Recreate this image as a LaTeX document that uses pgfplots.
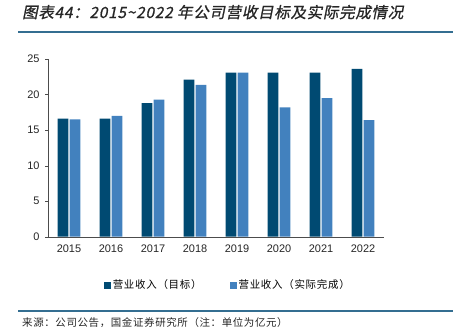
\documentclass[border=0pt]{standalone}
\usepackage{pgfplots}
\pgfplotsset{compat=1.18}
\usepackage{fontspec}
\setmainfont{Liberation Sans}
\newfontfamily\cjk{Noto Sans CJK SC}
\newfontfamily\cjkleg[LetterSpace=7]{Noto Sans CJK SC}
\newfontfamily\cjksrc[LetterSpace=6]{Noto Sans CJK SC}
\newfontfamily\cjkit[FakeSlant=0.2,FakeBold=1,LetterSpace=5]{Noto Sans CJK SC}
\definecolor{cdark}{RGB}{0,74,114}
\definecolor{clight}{RGB}{66,129,190}
\definecolor{cline}{RGB}{52,110,145}
\begin{document}
\begin{tikzpicture}[x=1bp,y=1bp]
\useasboundingbox (0,0) rectangle (453,329);
\node[anchor=base west,inner sep=0,text=black!85] at (22,311) {\cjkit\fontsize{15.5}{17}\selectfont 图表44：2015\textasciitilde2022 年公司营收目标及实际完成情况};
\draw[cline,line width=1.2bp] (18,297) -- (453,297);
\begin{axis}[
  at={(69bp,92.3bp)}, anchor=origin,
  scale only axis, width=336bp, height=177.7bp,
  ybar, bar width=10.7bp,
  xmin=-0.5, xmax=7.5, ymin=0, ymax=25,
  xtick={0,...,7},
  xticklabels={2015,2016,2017,2018,2019,2020,2021,2022},
  extra x ticks={-0.5,0.5,...,7.5}, extra x tick labels={},
  extra x tick style={major tick length=4bp, tick style={draw=black!70}, xticklabel=\empty, tick align=outside},
  ytick={0,5,...,25},
  axis x line*=bottom, axis y line*=left,
  x axis line style={draw=black!70, -}, y axis line style={draw=black!70, -},
  major x tick style={draw=none},
  y tick style={draw=black!70}, major tick length=3bp, tick align=outside,
  ticklabel style={font=\fontsize{11}{12}\selectfont, text=black!85},
  yticklabel style={xshift=-2bp},
  xticklabel style={yshift=-2bp},
  /pgf/number format/assume math mode=true,
  legend style={draw=none, at={(0.535,-0.22)}, anchor=north, legend columns=2, font=\cjkleg\fontsize{10.5}{12}\selectfont, /tikz/every even column/.append style={column sep=26bp}},
  legend image code/.code={\fill[#1] (0bp,-3.5bp) rectangle (7bp,3.5bp);},
]
\addplot[fill=cdark, draw=none, bar shift=-6bp] coordinates {(0,16.6) (1,16.6) (2,18.8) (3,22.1) (4,23.1) (5,23.1) (6,23.1) (7,23.6)};
\addplot[fill=clight, draw=none, bar shift=6bp] coordinates {(0,16.5) (1,17.0) (2,19.3) (3,21.35) (4,23.1) (5,18.2) (6,19.5) (7,16.4)};
\legend{营业收入（目标）, 营业收入（实际完成）}
\end{axis}
\draw[cline,line width=1.2bp] (18,18) -- (453,18);
\node[anchor=base west,inner sep=0,text=black!85] at (22,3) {\cjksrc\fontsize{10.5}{12}\selectfont 来源：公司公告，国金证券研究所（注：单位为亿元）};
\end{tikzpicture}
\end{document}
